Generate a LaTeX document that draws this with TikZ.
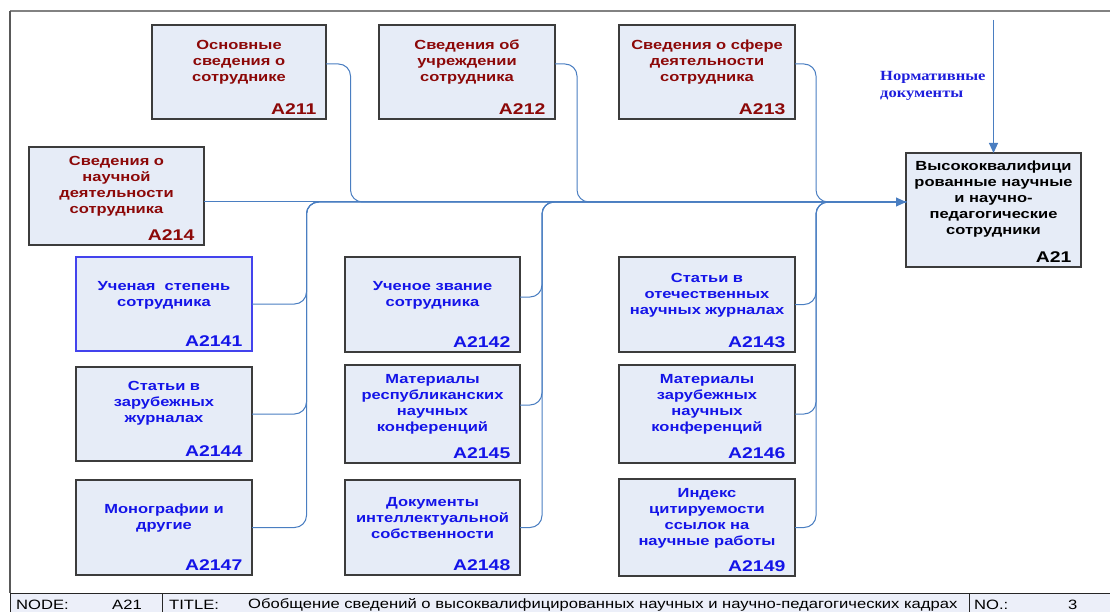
\documentclass[tikz,border=0pt]{standalone}
\usepackage{fontspec}
\setmainfont{Liberation Sans}
\newfontfamily\boxfont[FakeStretch=1.25]{Liberation Sans}
\newfontfamily\barfont[FakeStretch=1.23]{Liberation Sans}
\newfontfamily\normfont[FakeStretch=1.18]{Liberation Serif}
\usetikzlibrary{arrows.meta}
\definecolor{boxfill}{RGB}{230,236,247}
\definecolor{boxdraw}{RGB}{60,60,60}
\definecolor{dred}{RGB}{140,8,8}
\definecolor{tblue}{RGB}{20,20,232}
\definecolor{conncol}{RGB}{74,126,193}
\definecolor{normcol}{RGB}{30,30,220}
\definecolor{barfill}{RGB}{236,239,249}
\definecolor{framegray}{RGB}{130,130,130}
\tikzset{
  boxst/.style={draw=boxdraw, fill=boxfill, line width=1.3pt, inner sep=0pt, outer sep=0pt},
  txt/.style={font=\boxfont\bfseries\fontsize{13.2}{16}\selectfont, align=center, inner sep=0pt},
  lbl/.style={font=\boxfont\bfseries\fontsize{15.5}{18}\selectfont, inner sep=0pt, anchor=base east},
  conn/.style={draw=conncol, line width=1pt, rounded corners=12pt},
  arr/.style={draw=conncol, line width=1pt, -{Triangle[length=10pt,width=9pt]}},
  bartext/.style={font=\barfont\fontsize{13.5}{15}\selectfont, anchor=west, inner sep=0pt},
  normtext/.style={font=\normfont\bfseries\fontsize{14}{17}\selectfont, text=normcol, align=left, anchor=west, inner sep=0pt}
}
% name, x1, y1, x2, y2, text centre y, colour, text, label
\newcommand\mkbox[9]{%
  \node[boxst, minimum width={#4-#2}, minimum height={#5-#3}] (#1) at ({(#2+#4)/2},{(#3+#5)/2}) {};
  \node[txt, text=#7] (#1t) at ({(#2+#4)/2},{#6}) {#8};
  \node[lbl, text=#7] (#1l) at ({#4-9.5},{#5-4.5}) {#9};
}
\begin{document}
\begin{tikzpicture}[x=1pt,y=-1pt]
\useasboundingbox (0,0) rectangle (1110,612);
% frame
\draw[framegray, line width=2pt] (10,11) -- (1110,11);
\draw[black!65, line width=1.4pt] (10,11) -- (10,593);
% bottom bar
\node[draw=black!85, fill=barfill, line width=1pt, minimum width=1110pt, minimum height=25pt, inner sep=0pt, anchor=north west] (bar) at (10,593) {};
\draw[black!85, line width=1pt] (162,593) -- (162,612);
\draw[black!85, line width=1pt] (969,593) -- (969,612);
\node[bartext] (bnode) at (16,604.5) {NODE:};
\node[bartext] (bnodev) at (112,604.5) {A21};
\node[bartext] (btitle) at (169,604.5) {TITLE:};
\node[bartext] (btitlev) at (248,604.5) {Обобщение сведений о высоквалифицированных научных и научно-педагогических кадрах};
\node[bartext] (bno) at (974,604.5) {NO.:};
\node[bartext] (bnov) at (1068,604.5) {3};
% boxes
\mkbox{A211}{152}{25}{326}{119}{62}{dred}{Основные\\сведения о\\сотруднике}{A211}
\mkbox{A212}{379}{25}{555}{119}{62}{dred}{Сведения об\\учреждении\\сотрудника}{A212}
\mkbox{A213}{619}{25}{795}{119}{62}{dred}{Сведения о сфере\\деятельности\\сотрудника}{A213}
\mkbox{A214}{29}{147}{204}{245}{186}{dred}{Сведения о\\научной\\деятельности\\сотрудника}{A214}
\mkbox{A21}{906}{153}{1081}{267}{199.5}{black}{Высококвалифици\\рованные научные\\и научно-\\педагогические\\сотрудники}{A21}
\mkbox{A2141}{76}{257}{252}{351}{295}{tblue}{Ученая~ степень\\сотрудника}{A2141}
\mkbox{A2142}{345}{257}{520}{352}{295}{tblue}{Ученое звание\\сотрудника}{A2142}
\mkbox{A2143}{619}{257}{795}{352}{295}{tblue}{Статьи в\\отечественных\\научных журналах}{A2143}
\mkbox{A2144}{76}{367}{252}{461}{403}{tblue}{Статьи в\\зарубежных\\журналах}{A2144}
\mkbox{A2145}{345}{365}{520}{463}{404}{tblue}{Материалы\\республиканских\\научных\\конференций}{A2145}
\mkbox{A2146}{619}{365}{795}{463}{404}{tblue}{Материалы\\зарубежных\\научных\\конференций}{A2146}
\mkbox{A2147}{76}{480}{252}{575}{518}{tblue}{Монографии и\\другие}{A2147}
\mkbox{A2148}{345}{480}{520}{575}{518}{tblue}{Документы\\интеллектуальной\\собственности}{A2148}
\mkbox{A2149}{619}{479}{795}{576}{518}{tblue}{Индекс\\цитируемости\\ссылок на\\научные работы}{A2149}
\draw[tblue!80, line width=1.2pt] (A2141.south west) rectangle (A2141.north east);
% junction coordinates
\coordinate (j211) at (350.5,202);
\coordinate (j212) at (577,202);
\coordinate (j213) at (816,202);
\coordinate (bus1) at (306.5,202);
\coordinate (bus2) at (542,202);
\coordinate (bus3) at (816,202);
\coordinate (in21) at ([yshift=8pt]A21.west);
\coordinate (normtop) at (993.5,20);
% connectors
\draw[conn] ([yshift=8pt]A211.east) -| (j211) -- (in21);
\draw[conn] ([yshift=8pt]A212.east) -| (j212) -- (in21);
\draw[conn] ([yshift=8pt]A213.east) -| (j213) -- (in21);
\draw[conn] (A2141.east) -| (bus1) -- (in21);
\draw[conn] (A2144.east) -| (bus1) -- (in21);
\draw[conn] (A2147.east) -| (bus1) -- (in21);
\draw[conn] ([yshift=7.5pt]A2142.east) -| (bus2) -- (in21);
\draw[conn] ([yshift=9pt]A2145.east) -| (bus2) -- (in21);
\draw[conn] (A2148.east) -| (bus2) -- (in21);
\draw[conn] (A2143.east) -| (bus3) -- (in21);
\draw[conn] (A2146.east) -| (bus3) -- (in21);
\draw[conn] (A2149.east) -| (bus3) -- (in21);
\draw[arr] ([yshift=-6pt]A214.east) -- (in21);
\draw[arr] (normtop) -- (normtop |- A21.north);
\node[normtext] (normlbl) at (880,85.5) {Нормативные\\документы};
\end{tikzpicture}
\end{document}
